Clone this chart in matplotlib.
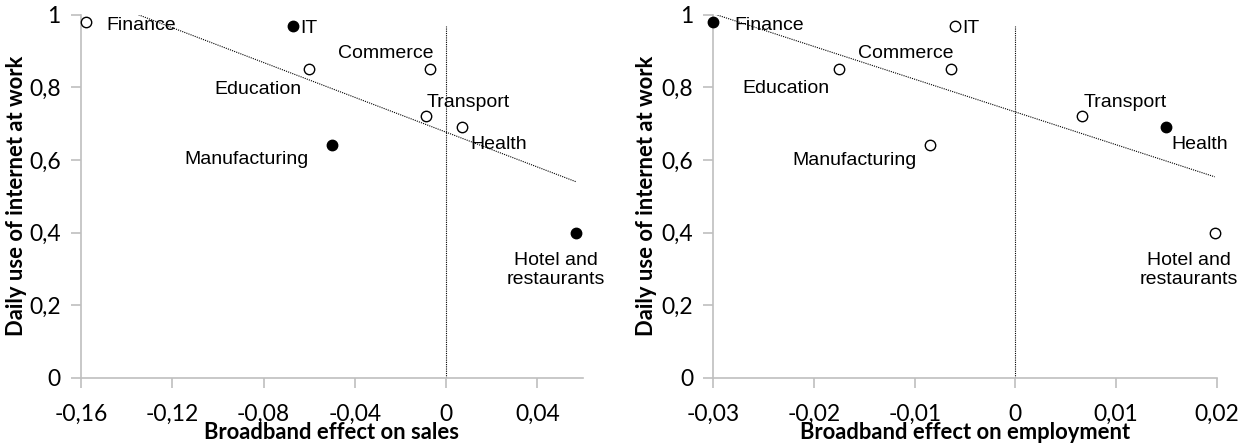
import numpy as np
import matplotlib
matplotlib.use("Agg")
import matplotlib.pyplot as plt
from matplotlib.ticker import FuncFormatter

# Sectors (same order in both panels)
sectors = ["Finance", "IT", "Education", "Commerce", "Transport",
           "Health", "Manufacturing", "Hotel and\nrestaurants"]

# Daily use of internet at work, share of employees
daily_use = [0.98, 0.97, 0.85, 0.85, 0.72, 0.69, 0.64, 0.40]

# Broadband effect on sales / employment by sector
effect_sales = [-0.158, -0.067, -0.060, -0.007, -0.009, 0.007, -0.050, 0.057]
effect_empl = [-0.030, -0.006, -0.0175, -0.0064, 0.0066, 0.015, -0.0085, 0.0198]

# Significant effects get a filled marker
signif_sales = [False, True, False, False, False, False, True, True]
signif_empl = [True, False, False, False, False, True, False, False]

# label placement per sector: (dx, dy in pixels, ha, va)
lab_sales = [(21, -8, "left", "baseline"), (7, -7, "left", "baseline"),
             (-8, -25, "right", "baseline"), (3, 11, "right", "baseline"),
             (1, 9, "left", "baseline"), (8, -22, "left", "baseline"),
             (-23, -19, "right", "baseline"), (-20, -19, "center", "top")]
lab_empl = [(21, -8, "left", "baseline"), (7, -7, "left", "baseline"),
            (-10, -24, "right", "baseline"), (3, 11, "right", "baseline"),
            (2, 9, "left", "baseline"), (5, -22, "left", "baseline"),
            (-13, -20, "right", "baseline"), (-26, -19, "center", "top")]

AXIS_FONT = ["Lato", "DejaVu Sans"]
LABEL_FONT = ["Liberation Sans", "DejaVu Sans"]
GRAY = "#bfbfbf"


def comma(v, pos):
    if abs(v) < 1e-12:
        return "0"
    s = f"{v:.2f}".rstrip("0").rstrip(".")
    return s.replace(".", ",")


def panel(ax, x, signif, labels, xlim, xticks, xlabel):
    x = np.array(x)
    y = np.array(daily_use)

    # linear trend over the data range
    b, a = np.polyfit(x, y, 1)
    xs = np.array([x.min(), x.max()])
    ax.plot(xs, a + b * xs, color="black", lw=0.8, ls=(0, (1, 1)), zorder=1)
    ax.vlines(0, 0, 0.97, color="black", lw=0.8, linestyles=(0, (1, 1)), zorder=1)

    for xi, yi, s in zip(x, y, signif):
        ax.plot(xi, yi, "o", ms=7.5, mec="black", mew=1.0,
                mfc="black" if s else "white", zorder=3, clip_on=False)

    for xi, yi, name, (dx, dy, ha, va) in zip(x, y, sectors, labels):
        ax.annotate(name, (xi, yi), xytext=(dx, dy), textcoords="offset pixels",
                    ha=ha, va=va, fontsize=14, family=LABEL_FONT,
                    multialignment="center", color="black")

    ax.set_xlim(*xlim)
    ax.set_ylim(0, 1)
    ax.set_xticks(xticks)
    ax.set_yticks([0, 0.2, 0.4, 0.6, 0.8, 1])
    ax.xaxis.set_major_formatter(FuncFormatter(comma))
    ax.yaxis.set_major_formatter(FuncFormatter(comma))

    for side in ["top", "right"]:
        ax.spines[side].set_visible(False)
    for side in ["left", "bottom"]:
        ax.spines[side].set_color(GRAY)
        ax.spines[side].set_linewidth(1.2)
    ax.tick_params(axis="both", length=7, width=1.2, color=GRAY,
                   labelsize=16.5, labelcolor="black")
    ax.tick_params(axis="x", pad=12)
    ax.tick_params(axis="y", pad=7.5)
    for t in ax.get_xticklabels() + ax.get_yticklabels():
        t.set_family(AXIS_FONT)

    ax.set_xlabel(xlabel, fontsize=15.8, fontweight="bold", family=AXIS_FONT, va="center")
    ax.set_ylabel("Daily use of internet at work", fontsize=15.8, fontweight="bold",
                  family=AXIS_FONT, va="center")
    ax.xaxis.set_label_coords(0.5, -0.15)


fig = plt.figure(figsize=(12.44, 4.43), dpi=100)
ax1 = fig.add_axes([0.0651, 0.1474, 0.4035, 0.8194])
ax2 = fig.add_axes([0.5734, 0.1474, 0.4047, 0.8194])

panel(ax1, effect_sales, signif_sales, lab_sales, (-0.16, 0.06),
      [-0.16, -0.12, -0.08, -0.04, 0, 0.04], "Broadband effect on sales")
ax1.yaxis.set_label_coords(-0.129, 0.5)

panel(ax2, effect_empl, signif_empl, lab_empl, (-0.03, 0.02),
      [-0.03, -0.02, -0.01, 0, 0.01, 0.02], "Broadband effect on employment")
ax2.yaxis.set_label_coords(-0.132, 0.5)

fig.savefig("out.png", dpi=100)
